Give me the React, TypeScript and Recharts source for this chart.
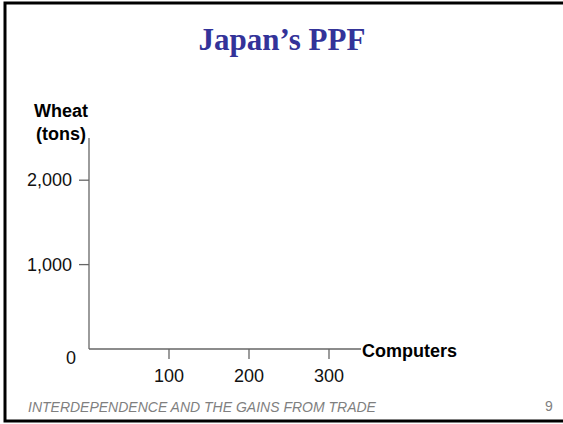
import React from "react"
import { LineChart, Line, XAxis, YAxis } from "recharts"

// Empty PPF axes: computers on x, wheat (tons) on y
const computerTicks = [100, 200, 300]
const wheatTicks = [0, 1000, 2000]
const computerDomain = [0, 340]
const wheatDomain = [0, 2500]
const ppfPoints: { computers: number; wheat: number }[] = []

const title = "Japan\u2019s PPF"
const xTitle = "Computers"
const yTitle = ["Wheat", "(tons)"]
const footer = "INTERDEPENDENCE AND THE GAINS FROM TRADE"
const pageNumber = "9"

const W = 563
const H = 424
const SANS = "Arial, 'Liberation Sans', sans-serif"
const AXIS = "#666666"

const fmt = (v: number) => v.toLocaleString("en-US")

function WheatTick(props: any) {
  const { x, y, payload } = props
  if (payload.value === 0) {
    return (
      <text x={x + 4} y={y + 9} textAnchor="end" dominantBaseline="central" fontSize={18} fontFamily={SANS} fill="#111">
        0
      </text>
    )
  }
  return (
    <g>
      <line x1={x + 7} x2={x + 17} y1={y} y2={y} stroke={AXIS} strokeWidth={1.3} />
      <text x={x} y={y} textAnchor="end" dominantBaseline="central" fontSize={18} fontFamily={SANS} fill="#111">
        {fmt(payload.value)}
      </text>
    </g>
  )
}

export default function App() {
  return (
    <div style={{ position: "absolute", left: 0, top: 0, width: W, height: H, background: "#fff", overflow: "hidden" }}>
      <svg width={W} height={H} style={{ position: "absolute", left: 0, top: 0 }}>
        <rect x={5} y={3} width={W + 10} height={418} fill="none" stroke="#000" strokeWidth={3} />
        <text x={282} y={50} textAnchor="middle" fontFamily="'Times New Roman', 'Liberation Serif', serif" fontWeight="bold" fontSize={31} fill="#333399">
          {title}
        </text>
        <text x={28} y={412} fontFamily={SANS} fontStyle="italic" fontSize={14} fill="#7f7f7f">
          {footer}
        </text>
        <text x={545} y={411} fontFamily={SANS} fontSize={14} fill="#7f7f7f">
          {pageNumber}
        </text>
      </svg>
      <div style={{ position: "absolute", left: 0, top: 0 }}>
        <LineChart width={W} height={H} data={ppfPoints} margin={{ top: 138, right: 202, bottom: 45, left: 9 }}>
          <XAxis
            dataKey="computers"
            type="number"
            domain={computerDomain}
            ticks={computerTicks}
            allowDataOverflow
            height={30}
            stroke={AXIS}
            strokeWidth={1.3}
            tickSize={10}
            tickMargin={10}
            tick={{ fontSize: 18, fontFamily: SANS, fill: "#111" }}
            label={(p: any) => {
              const vb = p.viewBox
              return (
                <text x={vb.x + vb.width + 1} y={vb.y + 8} fontSize={18} fontWeight="bold" fontFamily={SANS} fill="#000">
                  {xTitle}
                </text>
              )
            }}
          />
          <YAxis
            dataKey="wheat"
            type="number"
            domain={wheatDomain}
            ticks={wheatTicks}
            allowDataOverflow
            width={80}
            stroke={AXIS}
            strokeWidth={1.3}
            tickLine={false}
            tickSize={0}
            tickMargin={0}
            tick={(p: any) => <WheatTick {...p} x={p.x - 17} />}
            label={(p: any) => {
              const vb = p.viewBox
              const cx = vb.x + vb.width - 28
              return (
                <text textAnchor="middle" fontSize={18} fontWeight="bold" fontFamily={SANS} fill="#000">
                  <tspan x={cx} y={vb.y - 21}>{yTitle[0]}</tspan>
                  <tspan x={cx} y={vb.y + 2}>{yTitle[1]}</tspan>
                </text>
              )
            }}
          />
          <Line dataKey="wheat" stroke="#333399" dot={false} isAnimationActive={false} />
        </LineChart>
      </div>
    </div>
  )
}
